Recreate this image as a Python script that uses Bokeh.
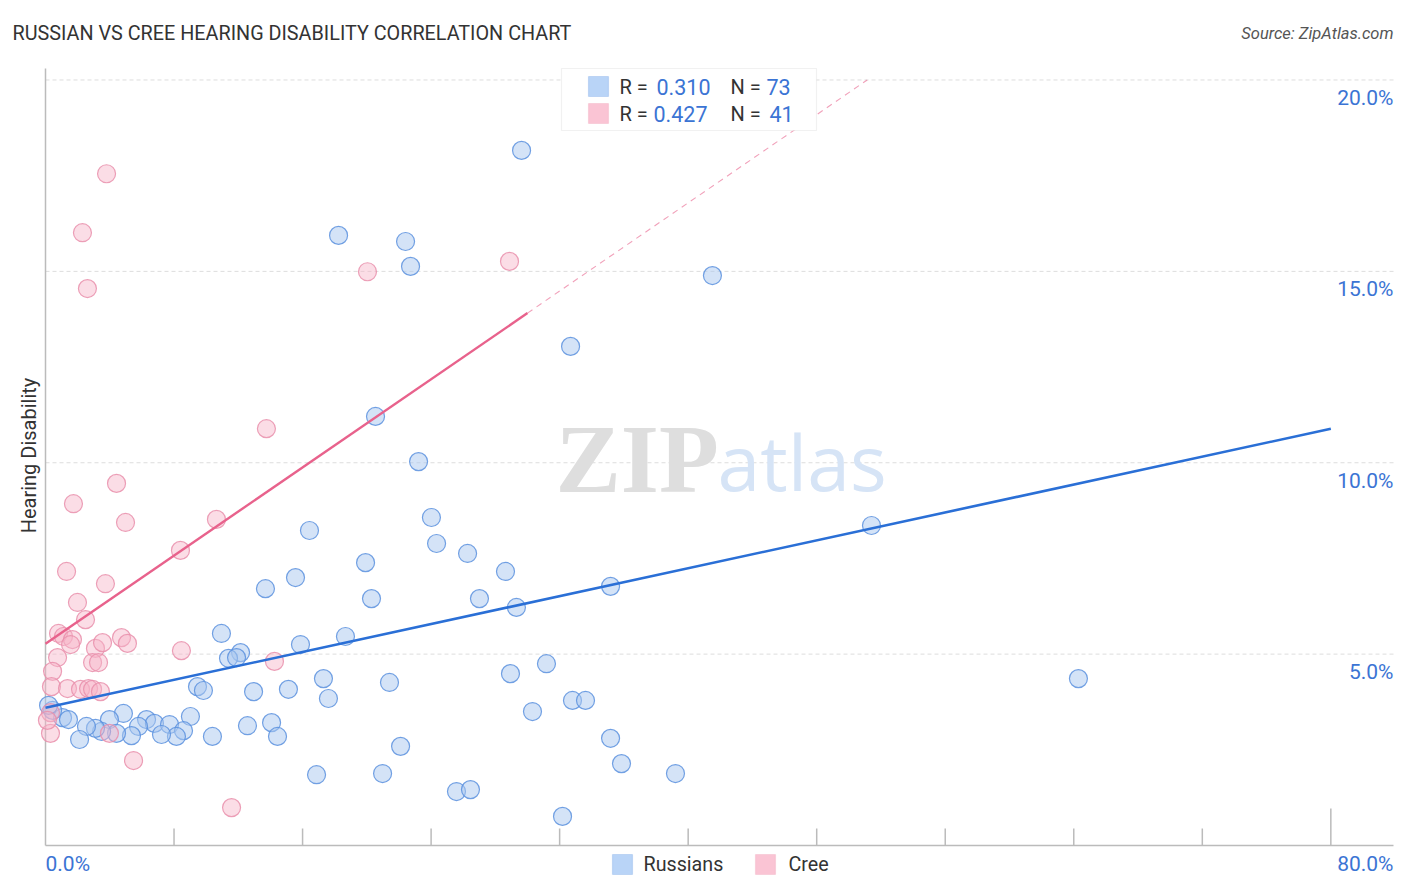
import numpy as np
from bokeh.plotting import figure
from bokeh.models import Label, BoxAnnotation, Range1d
from bokeh.embed import file_html
from bokeh.resources import INLINE

# ---------------- data ----------------
russians_x = [29.63, 18.24, 22.41, 22.72, 41.51, 32.68, 20.54, 23.22, 51.41, 24.02,
              16.43, 24.34, 26.27, 19.92, 28.63, 15.56, 13.69, 35.17, 20.29, 27.01,
              29.31, 10.95, 18.67, 15.87, 12.14, 11.39, 11.89, 31.18, 64.29, 28.94,
              17.30, 21.41, 9.46, 9.83, 12.95, 15.12, 17.61, 32.80, 33.61, 30.31,
              4.85, 9.02, 14.07, 12.57, 6.29, 3.98, 6.78, 7.72, 8.59, 8.15,
              7.22, 5.79, 5.35, 4.42, 3.49, 3.11, 2.55, 2.12, 10.39, 14.44,
              1.06, 1.43, 0.44, 0.19, 35.17, 35.85, 39.21, 22.10, 20.98, 16.87,
              25.58, 26.45, 32.18]
russians_y = [18.16, 15.94, 15.78, 15.13, 14.89, 13.04, 11.21, 10.03, 8.36, 8.57,
              8.23, 7.89, 7.63, 7.39, 7.16, 7.00, 6.71, 6.77, 6.45, 6.45,
              6.22, 5.54, 5.46, 5.25, 5.04, 4.89, 4.91, 4.75, 4.36, 4.49,
              4.36, 4.26, 4.15, 4.05, 4.02, 4.08, 3.84, 3.79, 3.79, 3.50,
              3.45, 3.37, 3.21, 3.13, 3.29, 3.29, 3.19, 3.16, 3.00, 2.85,
              2.90, 3.11, 2.87, 2.93, 2.98, 3.06, 3.11, 2.77, 2.85, 2.85,
              3.34, 3.29, 3.53, 3.66, 2.80, 2.14, 1.88, 2.59, 1.88, 1.85,
              1.41, 1.46, 0.76]

cree_x = [3.80, 2.30, 2.61, 20.04, 28.88, 13.75, 4.42, 1.74, 4.98, 10.64,
          8.40, 1.31, 3.73, 1.99, 2.49, 0.81, 1.12, 1.68, 1.56, 3.11,
          3.55, 4.73, 5.10, 2.93, 3.30, 0.75, 0.44, 8.46, 14.25, 0.37,
          1.37, 2.18, 2.68, 2.93, 3.42, 0.31, 3.98, 5.48, 11.58, 0.31, 0.12]
cree_y = [17.55, 16.01, 14.55, 14.99, 15.26, 10.89, 9.46, 8.93, 8.44, 8.52,
          7.71, 7.16, 6.84, 6.35, 5.90, 5.54, 5.46, 5.38, 5.25, 5.15,
          5.30, 5.43, 5.28, 4.78, 4.78, 4.91, 4.55, 5.09, 4.81, 4.15,
          4.10, 4.08, 4.10, 4.08, 4.02, 2.93, 2.93, 2.22, 0.99, 3.47, 3.27]

series_names = ["Russians", "Cree"]
series_r = ["0.310", "0.427"]
series_n = ["73", "41"]

russ_intercept, russ_slope, russ_end = 3.60, 0.0911, 80.0
cree_intercept, cree_slope, cree_solid_end, cree_dash_top = 5.27, 0.288, 30.0, 20.0

X_TICKS = [0, 8, 16, 24, 32, 40, 48, 56, 64, 72, 80]
Y_TICKS = [5, 10, 15, 20]
Y_LABELS = ["5.0%", "10.0%", "15.0%", "20.0%"]
X_END_LABELS = ["0.0%", "80.0%"]

TITLE = "RUSSIAN VS CREE HEARING DISABILITY CORRELATION CHART"
SOURCE = "Source: ZipAtlas.com"
Y_TITLE = "Hearing Disability"

# ---------------- layout ----------------
W, H = 1406, 892
X_MAX, Y_MAX = 83.9, 20.3          # extent of the plotting area (data units)
FL, FT, FR, FB = 45, 68, 1393, 845  # plotting area in page pixels
PPX, PPY = (FR - FL) / X_MAX, (FB - FT) / Y_MAX

def dx(px):
    return (px - FL) / PPX

def dy(py):
    return (FB - py) / PPY

BLUE_FILL, BLUE_LINE, BLUE_TREND = "#a9c7f0", "#5a90de", "#2a6fd6"
PINK_FILL, PINK_LINE, PINK_TREND = "#f6b3c7", "#e98fab", "#e8628c"
TXT_BLUE = "#3b74d4"
DARK = "#333333"
FONT = "Roboto"
AXIS_C = "#bbbbbb"

p = figure(frame_width=W, frame_height=H, x_range=Range1d(dx(0), dx(W)), y_range=Range1d(dy(H), dy(0)),
           output_backend="svg", toolbar_location=None,
           min_border_left=0, min_border_right=0, min_border_top=0, min_border_bottom=0)
p.outline_line_color = None
p.background_fill_color = "white"
p.border_fill_color = "white"
p.axis.visible = False
p.grid.visible = False

# gridlines
p.segment(x0=[0] * len(Y_TICKS), y0=Y_TICKS, x1=[X_MAX] * len(Y_TICKS), y1=Y_TICKS,
          line_color="#dddddd", line_width=1, line_dash="4 3")

# axes
p.segment(x0=[0, 0], y0=[0, 0], x1=[0, X_MAX], y1=[Y_MAX, 0], line_color=AXIS_C, line_width=1.5)
tick_tops = [17 / PPY] * (len(X_TICKS) - 1) + [37 / PPY]
p.segment(x0=X_TICKS[1:], y0=[0] * (len(X_TICKS) - 1), x1=X_TICKS[1:], y1=tick_tops[1:],
          line_color=AXIS_C, line_width=1.5)

# watermark
p.add_layout(Label(x=dx(555), y=dy(458), text="ZIP", text_font="Liberation Serif",
                   text_font_size="98px", text_color="#dedede", text_baseline="alphabetic",
                   text_align="left", text_font_style="bold"))
p.add_layout(Label(x=dx(717), y=dy(461), text="atlas", text_font="Open Sans",
                   text_font_size="77px", text_color="#d6e4f6", text_baseline="alphabetic",
                   text_align="left"))

# points
p.scatter(russians_x, russians_y, size=18, marker="circle", fill_color=BLUE_FILL, fill_alpha=0.5,
          line_color=BLUE_LINE, line_alpha=0.85, line_width=1.2)
p.scatter(cree_x, cree_y, size=18, marker="circle", fill_color=PINK_FILL, fill_alpha=0.45,
          line_color=PINK_LINE, line_alpha=0.85, line_width=1.2)

# trend lines
rx = np.array([0.0, russ_end])
p.line(rx, russ_intercept + russ_slope * rx, line_color=BLUE_TREND, line_width=2.6)
cx = np.array([0.0, cree_solid_end])
p.line(cx, cree_intercept + cree_slope * cx, line_color=PINK_TREND, line_width=2.4)
cdx = np.array([cree_solid_end, (cree_dash_top - cree_intercept) / cree_slope])
p.line(cdx, cree_intercept + cree_slope * cdx, line_color=PINK_TREND, line_width=1.1,
       line_dash="6 5", line_alpha=0.6)

# right-side y tick labels
for t, lab in zip(Y_TICKS, Y_LABELS):
    p.add_layout(Label(x=X_MAX, y=t - 18 / PPY, text=lab, text_align="right", text_baseline="middle",
                       text_font=FONT, text_font_size="21px", text_color=TXT_BLUE))

# x end labels
p.add_layout(Label(x=0, y=dy(863), text=X_END_LABELS[0], text_align="left", text_baseline="middle",
                   text_font=FONT, text_font_size="21px", text_color=TXT_BLUE))
p.add_layout(Label(x=X_MAX, y=dy(863), text=X_END_LABELS[1], text_align="right", text_baseline="middle",
                   text_font=FONT, text_font_size="21px", text_color=TXT_BLUE))

# title and source
p.add_layout(Label(x=dx(12), y=dy(33), text=TITLE, text_align="left", text_baseline="middle",
                   text_font=FONT, text_font_size="19.8px", text_color=DARK))
p.add_layout(Label(x=X_MAX, y=dy(33), text=SOURCE, text_align="right", text_baseline="middle",
                   text_font=FONT, text_font_size="16.5px", text_color="#555555",
                   text_font_style="italic"))

# y axis title
p.add_layout(Label(x=dx(28), y=dy(455), text=Y_TITLE, angle=np.pi / 2, text_align="center",
                   text_baseline="middle", text_font=FONT, text_font_size="20px", text_color=DARK))

# top legend box
p.add_layout(BoxAnnotation(left=dx(561), right=dx(816), top=dy(68), bottom=dy(130),
                           fill_color="white", fill_alpha=1.0, line_color="#d0d0d0", line_width=1.2,
                           level="overlay"))
fills = ["#b9d4f7", "#fac4d4"]
lines = ["#74a3e6", "#ee9fb7"]
rows_y = [86, 113]
r_x = [656, 653]
n_x = [766, 769]
for i in range(2):
    yc = rows_y[i]
    p.add_layout(BoxAnnotation(left=dx(588), right=dx(608), top=dy(yc - 10), bottom=dy(yc + 10),
                               fill_color=fills[i], fill_alpha=1.0, line_color=lines[i], line_width=1.2,
                               level="overlay"))
    p.add_layout(Label(x=dx(619), y=dy(yc), text="R =", text_align="left", text_baseline="middle",
                       text_font=FONT, text_font_size="20px", text_color=DARK, level="overlay"))
    p.add_layout(Label(x=dx(r_x[i]), y=dy(yc), text=series_r[i], text_align="left", text_baseline="middle",
                       text_font=FONT, text_font_size="21.5px", text_color=TXT_BLUE, level="overlay"))
    p.add_layout(Label(x=dx(730), y=dy(yc), text="N =", text_align="left", text_baseline="middle",
                       text_font=FONT, text_font_size="20px", text_color=DARK, level="overlay"))
    p.add_layout(Label(x=dx(n_x[i]), y=dy(yc), text=series_n[i], text_align="left", text_baseline="middle",
                       text_font=FONT, text_font_size="21.5px", text_color=TXT_BLUE, level="overlay"))

# bottom legend
bl_sw = [612, 755]
bl_tx = [643, 788]
for i in range(2):
    p.add_layout(BoxAnnotation(left=dx(bl_sw[i]), right=dx(bl_sw[i] + 20), top=dy(854), bottom=dy(874),
                               fill_color=fills[i], fill_alpha=1.0, line_color=lines[i], line_width=1.2))
    p.add_layout(Label(x=dx(bl_tx[i]), y=dy(864), text=series_names[i], text_align="left",
                       text_baseline="middle", text_font=FONT, text_font_size="19.7px",
                       text_color=DARK))

open("out.html", "w").write(file_html(p, INLINE))
